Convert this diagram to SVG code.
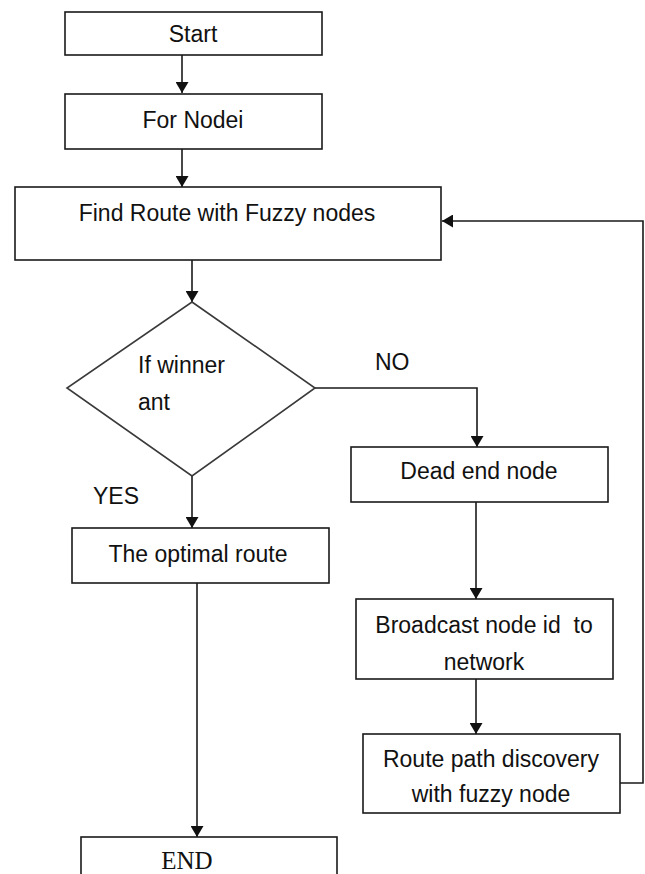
<svg xmlns="http://www.w3.org/2000/svg" width="645" height="874" viewBox="0 0 645 874">
<style>
.box{fill:#fff;stroke:#1a1a1a;stroke-width:1.6}
.dia{fill:#fff;stroke:#3a3a3a;stroke-width:1.6}
.t{font-family:"Liberation Sans",Arial,sans-serif;font-size:23px;fill:#111}
.c{text-anchor:middle}
.ser{font-family:"Liberation Serif","Times New Roman",serif;font-size:25px;fill:#111;text-anchor:middle}
.ln{fill:none;stroke:#1a1a1a;stroke-width:1.6}
</style>
<defs>
<marker id="ah" viewBox="0 0 11 13" refX="11" refY="6.5" markerWidth="11" markerHeight="13" markerUnits="userSpaceOnUse" orient="auto">
<path d="M0,0 L11,6.5 L0,13 Z" fill="#111"/>
</marker>
</defs>
<rect width="645" height="874" fill="#fff"/>
<g id="connectors">
<line class="ln" x1="182" y1="55" x2="182" y2="93" marker-end="url(#ah)"/>
<line class="ln" x1="182" y1="149" x2="182" y2="187" marker-end="url(#ah)"/>
<line class="ln" x1="192" y1="260" x2="192" y2="302" marker-end="url(#ah)"/>
<polyline class="ln" points="315,388 477,388 477,447" marker-end="url(#ah)"/>
<line class="ln" x1="192" y1="476" x2="192" y2="528" marker-end="url(#ah)"/>
<line class="ln" x1="197" y1="583" x2="197" y2="837" marker-end="url(#ah)"/>
<line class="ln" x1="476" y1="502" x2="476" y2="599" marker-end="url(#ah)"/>
<line class="ln" x1="476" y1="679" x2="476" y2="734" marker-end="url(#ah)"/>
<polyline class="ln" points="620,783 643,783 643,221 442,221" marker-end="url(#ah)"/>
<text class="t" x="375" y="370">NO</text>
<text class="t" x="93" y="504">YES</text>
</g>
<g id="start">
<rect class="box" x="65" y="12" width="257" height="43"/>
<text class="t c" x="193" y="42">Start</text>
</g>
<g id="fornode">
<rect class="box" x="65" y="94" width="257" height="55"/>
<text class="t c" x="193" y="128">For Nodei</text>
</g>
<g id="findroute">
<rect class="box" x="15" y="187" width="426" height="73"/>
<text class="t c" x="227" y="221">Find Route with Fuzzy nodes</text>
</g>
<g id="decision">
<polygon class="dia" points="192,302 315,388 192,476 67,388"/>
<text class="t" x="138" y="373">If winner</text>
<text class="t" x="138" y="410">ant</text>
</g>
<g id="deadend">
<rect class="box" x="351" y="447" width="257" height="55"/>
<text class="t c" x="479" y="479">Dead end node</text>
</g>
<g id="optimal">
<rect class="box" x="72" y="528" width="257" height="55"/>
<text class="t c" x="198" y="562">The optimal route</text>
</g>
<g id="broadcast">
<rect class="box" x="356" y="599" width="257" height="80"/>
<text class="t c" x="484" y="633" xml:space="preserve">Broadcast node id  to</text>
<text class="t c" x="484" y="670">network</text>
</g>
<g id="routepath">
<rect class="box" x="363" y="734" width="257" height="79"/>
<text class="t c" x="491" y="767">Route path discovery</text>
<text class="t c" x="491" y="802">with fuzzy node</text>
</g>
<g id="end">
<rect class="box" x="81" y="837" width="256" height="45"/>
<text class="ser" x="187" y="869">END</text>
</g>
</svg>
